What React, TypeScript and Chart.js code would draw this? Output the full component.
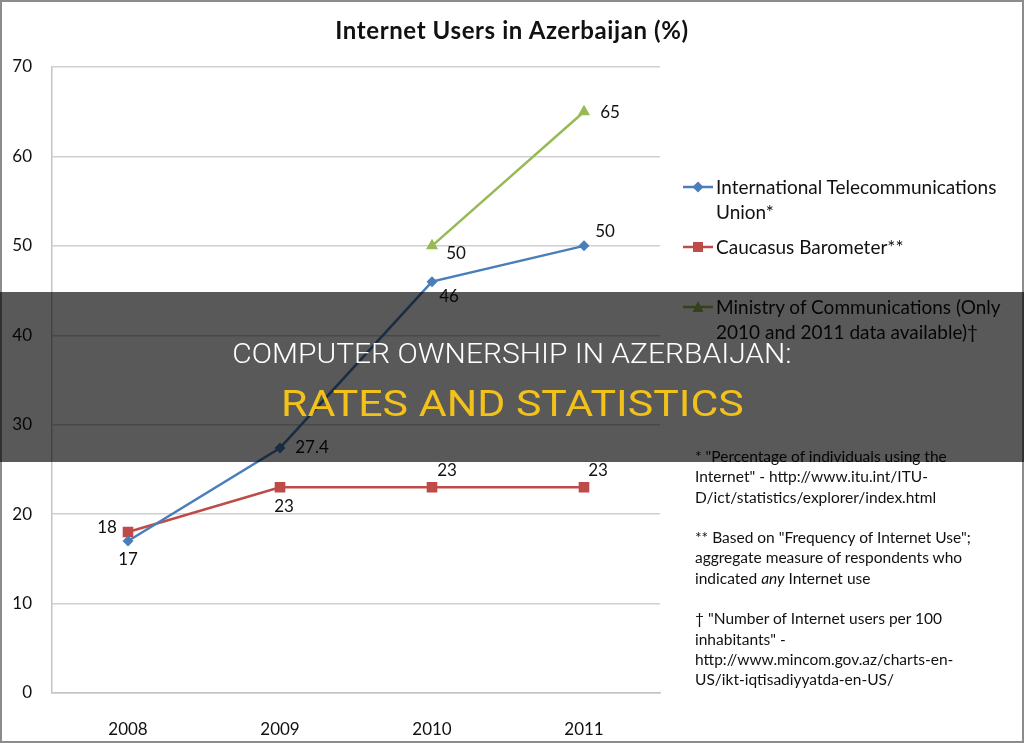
import React, { useEffect, useRef } from "react";
import { Chart, registerables } from "chart.js";

Chart.register(...registerables);

const years = ["2008", "2009", "2010", "2011"];
const ituValues = [17, 27.4, 46, 50];
const caucasusValues = [18, 23, 23, 23];
const ministryValues = [null, null, 50, 65];
const yTicks = [0, 10, 20, 30, 40, 50, 60, 70];

const seriesLabels = [
  ["International Telecommunications", "Union*"],
  ["Caucasus Barometer**"],
  ["Ministry of Communications (Only", "2010 and 2011 data available)†"],
];
const seriesColors = ["#4a7ebb", "#be4b48", "#98b954"];
const seriesMarkers = ["rectRot", "rect", "triangle"];

// label offsets (dx, dy) from the point, for data-label placement
const labelOffsets = [
  [[0, 19], [32, 0], [17, 15], [21, -14]],
  [[-21, -5], [4, 19], [15, -17], [14, -17]],
  [[0, 0], [0, 0], [24, 8], [26, 1]],
];

const FONT = "Lato, 'Open Sans', sans-serif";

const dataLabelPlugin = {
  id: "dataLabels",
  afterDatasetsDraw(chart: any) {
    const ctx = chart.ctx;
    ctx.save();
    ctx.font = `17px ${FONT}`;
    ctx.fillStyle = "#111";
    ctx.textAlign = "center";
    ctx.textBaseline = "middle";
    chart.data.datasets.forEach((ds: any, di: number) => {
      const meta = chart.getDatasetMeta(di);
      meta.data.forEach((pt: any, i: number) => {
        const v = ds.data[i];
        if (v === null || v === undefined) return;
        const [dx, dy] = labelOffsets[di][i];
        ctx.fillText(String(v), pt.x + dx, pt.y + dy);
      });
    });
    ctx.restore();
  },
};

function LegendMarker({ color, shape }: { color: string; shape: string }) {
  let m: any = null;
  if (shape === "rectRot") m = <polygon points="15,1.5 20.5,7 15,12.5 9.5,7" fill={color} />;
  else if (shape === "rect") m = <rect x="10" y="2" width="10" height="10" fill={color} />;
  else m = <polygon points="15,1 20.5,12 9.5,12" fill={color} />;
  return (
    <svg width="30" height="14" style={{ position: "absolute", left: 0, top: 0 }}>
      <line x1="0" y1="7" x2="30" y2="7" stroke={color} strokeWidth="2.5" />
      {m}
    </svg>
  );
}

export default function App() {
  const canvasRef = useRef<HTMLCanvasElement | null>(null);

  useEffect(() => {
    let chart: Chart | null = null;
    let cancelled = false;
    const make = () => {
      if (cancelled || !canvasRef.current) return;
      const datasets = [ituValues, caucasusValues, ministryValues].map((vals, i) => ({
        label: seriesLabels[i].join(" "),
        data: vals,
        borderColor: seriesColors[i],
        backgroundColor: seriesColors[i],
        borderWidth: 2.5,
        pointStyle: seriesMarkers[i] as any,
        pointRadius: i === 0 ? 5.5 : i === 1 ? 7.5 : 7,
        pointHoverRadius: 6,
        pointBorderWidth: 0,
        tension: 0,
        spanGaps: false,
      }));
      chart = new Chart(canvasRef.current, {
        type: "line",
        data: { labels: years, datasets },
        plugins: [dataLabelPlugin],
        options: {
          animation: false,
          responsive: false,
          maintainAspectRatio: false,
          layout: { padding: { top: 67, right: 364, left: 0, bottom: 0 } },
          plugins: { legend: { display: false }, title: { display: false }, tooltip: { enabled: false } },
          scales: {
            x: {
              type: "category",
              offset: true,
              grid: { display: false },
              border: { display: true, color: "#c4c4c4", width: 1.5 },
              ticks: { color: "#111", font: { family: FONT, size: 17 }, padding: 18, maxRotation: 0 },
              afterFit: (s: any) => { s.height = 50; },
            },
            y: {
              min: 0,
              max: 70,
              afterBuildTicks: (s: any) => { s.ticks = yTicks.map((v) => ({ value: v })); },
              grid: { color: "#cfcfcf", lineWidth: 1.5, drawTicks: false },
              border: { display: true, color: "#c4c4c4", width: 1.5 },
              ticks: { color: "#111", font: { family: FONT, size: 17 }, padding: 20 },
              afterFit: (s: any) => { s.width = 52; },
            },
          },
        },
      });
    };
    const fonts: any = (document as any).fonts;
    if (fonts && fonts.load) {
      Promise.all([fonts.load(`17px Lato`), fonts.load(`bold 21px Lato`)]).then(make, make);
    } else make();
    return () => {
      cancelled = true;
      if (chart) chart.destroy();
    };
  }, []);

  const legendTops = [178, 238, 298];

  return (
    <div style={{ position: "fixed", left: 0, top: 0, width: 1024, height: 743, background: "#fff", overflow: "hidden" }}>
      <canvas ref={canvasRef} width={1024} height={743} style={{ position: "absolute", left: 0, top: 0, width: 1024, height: 743 }} />
      <div style={{ position: "absolute", left: 0, top: 15, width: 1024, textAlign: "center", font: `bold 24px ${FONT}`, letterSpacing: "0.6px", color: "#111", lineHeight: "30px" }}>
        Internet Users in Azerbaijan (%)
      </div>
      {seriesLabels.map((lines, i) => (
        <div key={i} style={{ position: "absolute", left: 683, top: legendTops[i] }}>
          <div style={{ position: "absolute", left: 0, top: 2 }}>
            <LegendMarker color={seriesColors[i]} shape={seriesMarkers[i]} />
          </div>
          <div style={{ position: "absolute", left: 33, top: -4, whiteSpace: "nowrap", font: `19px ${FONT}`, lineHeight: "25px", color: "#111" }}>
            {lines.map((l, j) => (<div key={j}>{l}</div>))}
          </div>
        </div>
      ))}
      <div style={{ position: "absolute", left: 695, top: 446, whiteSpace: "nowrap", font: `15.5px ${FONT}`, lineHeight: "20.3px", color: "#111" }}>
        <div>* "Percentage of individuals using the</div>
        <div>Internet" - http://www.itu.int/ITU-</div>
        <div>D/ict/statistics/explorer/index.html</div>
        <div>&nbsp;</div>
        <div>** Based on "Frequency of Internet Use";</div>
        <div>aggregate measure of respondents who</div>
        <div>indicated <i>any</i> Internet use</div>
        <div>&nbsp;</div>
        <div>† "Number of Internet users per 100</div>
        <div>inhabitants" -</div>
        <div>http://www.mincom.gov.az/charts-en-</div>
        <div>US/ikt-iqtisadiyyatda-en-US/</div>
      </div>
      <div style={{ position: "absolute", left: 0, top: 0, width: 1024, height: 743, boxSizing: "border-box", border: "2px solid #8c8c8c", pointerEvents: "none" }} />
      <div style={{ position: "absolute", left: 0, top: 292, width: 1024, height: 170, background: "rgba(0,0,0,0.65)" }}>
        <div style={{ position: "absolute", left: 0, top: 45, width: 1024, textAlign: "center" }}>
          <span style={{ display: "inline-block", transform: "scaleX(1.11)", font: `300 27px Roboto, sans-serif`, color: "#fff", lineHeight: "34px", whiteSpace: "nowrap" }}>
            COMPUTER OWNERSHIP IN AZERBAIJAN:
          </span>
        </div>
        <div style={{ position: "absolute", left: 0, top: 90, width: 1024, textAlign: "center" }}>
          <span style={{ display: "inline-block", transform: "scaleX(1.19)", font: `36px Roboto, sans-serif`, color: "#f2c21b", lineHeight: "44px", whiteSpace: "nowrap" }}>
            RATES AND STATISTICS
          </span>
        </div>
      </div>
    </div>
  );
}
